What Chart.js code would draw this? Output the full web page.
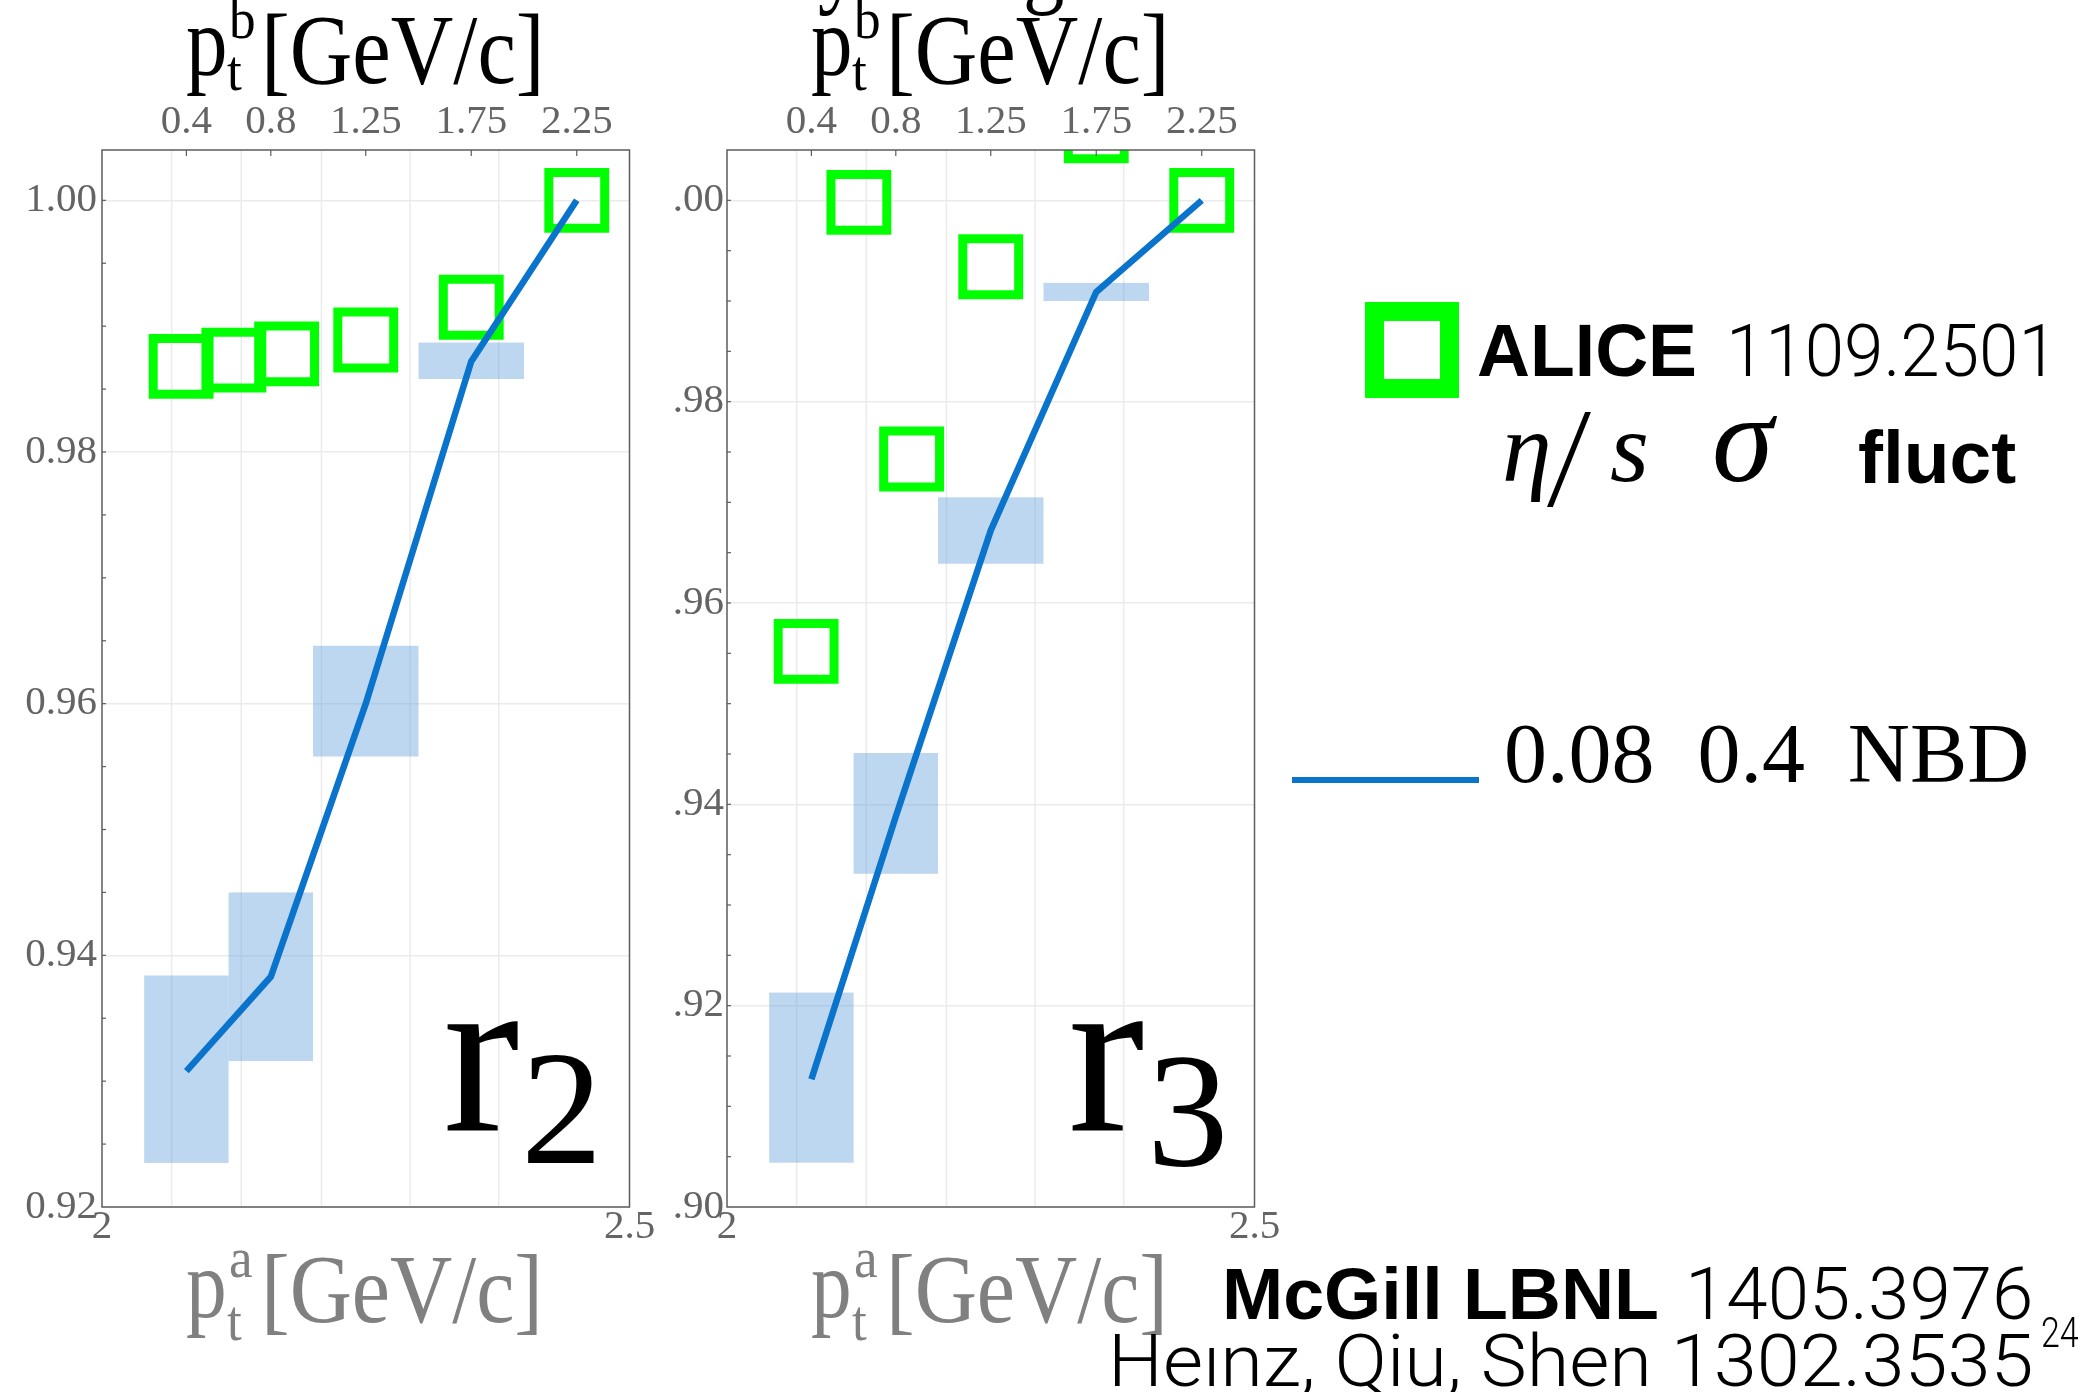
<!DOCTYPE html>
<html>
<head>
<meta charset="utf-8">
<script src="https://cdn.jsdelivr.net/npm/chart.js@4.4.1/dist/chart.umd.min.js"></script>
<style>
  html, body { margin: 0; padding: 0; background: #fff; }
  #page { position: relative; width: 2095px; height: 1392px; overflow: hidden; background: #fff; }
  canvas { position: absolute; }
  .t { position: absolute; white-space: pre; line-height: 1; transform-origin: 0 0; }
  .swatch-sq { position: absolute; box-sizing: border-box; border: 19px solid #00ff00; }
  .swatch-ln { position: absolute; background: #0a73cc; }
</style>
</head>
<body>
<div id="page">
  <canvas id="r2" width="678" height="1160" style="left:0px;top:100px"></canvas>
  <canvas id="r3" width="678" height="1160" style="left:625px;top:100px"></canvas>
  <div class="swatch-sq" style="left:1365px;top:302px;width:94px;height:96px"></div>
  <div class="swatch-ln" style="left:1292px;top:777px;width:187px;height:6px"></div>
</div>
<script>
// ---- data ----------------------------------------------------------------
// model (hydro) bins in p_t^b
const binCenters = [0.4, 0.8, 1.25, 1.75, 2.25];
const binLo      = [0.2, 0.6, 1.0, 1.5, 2.0];
const binHi      = [0.6, 1.0, 1.5, 2.0, 2.5];
const topTickLabels = ['0.4', '0.8', '1.25', '1.75', '2.25'];

// ALICE measurement bins in p_t^b
const aliceX  = [0.375, 0.625, 0.875, 1.25, 1.75, 2.25];
const aliceR2 = [0.9868, 0.9873, 0.9878, 0.9889, 0.9915, 1.000];
const aliceR3 = [0.9552, 0.9998, 0.9743, 0.9934, 1.0069, 1.000];

// model: eta/s = 0.08, sigma = 0.4, NBD fluctuations
const modelR2   = [0.9308, 0.9383, 0.9600, 0.9872, 1.000];
const modelR2Lo = [0.9235, 0.9316, 0.9558, 0.9858, 1.000];
const modelR2Hi = [0.9384, 0.9450, 0.9646, 0.9887, 1.000];
const modelR3   = [0.9127, 0.9388, 0.9672, 0.9909, 1.000];
const modelR3Lo = [0.9044, 0.9331, 0.9639, 0.9900, 1.000];
const modelR3Hi = [0.9213, 0.9451, 0.9705, 0.9918, 1.000];

const yTicksR2 = [0.92, 0.94, 0.96, 0.98, 1.00];
const yTicksR3 = [0.90, 0.92, 0.94, 0.96, 0.98, 1.00];
const bottomTicks = [2, 2.5];
const gridX = [0.33, 0.66, 1.04, 1.46, 1.88];

// ---- styling -------------------------------------------------------------
const SERIF = "'Liberation Serif', 'Times New Roman', serif";
const SANS  = "'Liberation Sans', Arial, sans-serif";
const LIGHT = "Roboto, 'Liberation Sans', sans-serif";
const GREEN = '#00ff00';
const BLUE  = '#0a73cc';
const BAND  = 'rgba(100,160,220,0.42)';
const TICK_COLOR = '#646464';
const GRID_COLOR = '#ebebeb';
const FRAME_COLOR = '#5c5c5c';
const tickFont = { family: SERIF, size: 41, lineHeight: 1 };

// keep the plot frame fixed: no extra room reserved for edge labels
function fixPadding(s) {
  s.paddingLeft = 0; s.paddingRight = 0; s.paddingTop = 0; s.paddingBottom = 0;
}

// grid columns, error bands, frame and inward ticks
const panelDecor = {
  id: 'panelDecor',
  beforeDatasetsDraw(chart, args, opts) {
    const { ctx, chartArea: a, scales: { x2, y } } = chart;
    ctx.save();
    ctx.strokeStyle = GRID_COLOR;
    ctx.lineWidth = 1.5;
    gridX.forEach(v => {
      const px = x2.getPixelForValue(v);
      ctx.beginPath(); ctx.moveTo(px, a.top); ctx.lineTo(px, a.bottom); ctx.stroke();
    });
    ctx.fillStyle = BAND;
    opts.lo.forEach((lo, i) => {
      const hi = opts.hi[i];
      if (hi <= lo) return;
      const xa = x2.getPixelForValue(binLo[i]);
      const xb = x2.getPixelForValue(binHi[i]);
      const ya = y.getPixelForValue(hi);
      const yb = y.getPixelForValue(lo);
      ctx.fillRect(xa, ya, xb - xa, yb - ya);
    });
    ctx.restore();
  },
  afterDatasetsDraw(chart) {
    const { ctx, chartArea: a, scales: { x2, y } } = chart;
    ctx.save();
    ctx.strokeStyle = FRAME_COLOR;
    ctx.lineWidth = 1.5;
    ctx.strokeRect(a.left, a.top, a.right - a.left, a.bottom - a.top);
    ctx.lineWidth = 1.2;
    x2.ticks.forEach(t => {
      const px = x2.getPixelForValue(t.value);
      ctx.beginPath(); ctx.moveTo(px, a.top); ctx.lineTo(px, a.top + 6); ctx.stroke();
    });
    for (let v = y.min; v <= y.max + 1e-9; v += 0.005) {
      const py = y.getPixelForValue(v);
      if (py < a.top + 1 || py > a.bottom - 1) continue;
      ctx.beginPath(); ctx.moveTo(a.left, py); ctx.lineTo(a.left + 4, py); ctx.stroke();
    }
    ctx.restore();
  }
};

function makePanel(id, cfg) {
  return new Chart(document.getElementById(id), {
    type: 'scatter',
    data: {
      datasets: [
        {
          type: 'line',
          label: '0.08 0.4 NBD',
          data: binCenters.map((x, i) => ({ x, y: cfg.model[i] })),
          xAxisID: 'x2',
          borderColor: BLUE,
          borderWidth: 6.5,
          pointRadius: 0,
          tension: 0,
          fill: false,
          order: 0,
          clip: 0
        },
        {
          label: 'ALICE 1109.2501',
          data: aliceX.map((x, i) => ({ x, y: cfg.alice[i] })),
          xAxisID: 'x2',
          pointStyle: 'rect',
          pointRadius: 39.5,
          pointBorderWidth: 9,
          pointBorderColor: GREEN,
          pointBackgroundColor: 'rgba(0,0,0,0)',
          showLine: false,
          order: 1,
          clip: 0
        }
      ]
    },
    options: {
      responsive: false,
      animation: false,
      devicePixelRatio: 1,
      events: [],
      layout: { padding: { left: 0, right: 30, top: 0, bottom: 0 } },
      plugins: {
        legend: { display: false },
        tooltip: { enabled: false },
        panelDecor: { lo: cfg.lo, hi: cfg.hi }
      },
      scales: {
        x: {
          type: 'linear', position: 'bottom', min: 2, max: 2.5,
          afterBuildTicks: s => { s.ticks = bottomTicks.map(v => ({ value: v })); },
          afterFit: s => { s.height = 53; fixPadding(s); },
          ticks: { font: tickFont, color: TICK_COLOR, padding: 0, maxRotation: 0, callback: v => String(v) },
          grid: { display: false, drawTicks: false },
          border: { display: false }
        },
        x2: {
          type: 'linear', position: 'top', min: 0, max: 2.5,
          afterBuildTicks: s => { s.ticks = binCenters.map(v => ({ value: v })); },
          afterFit: s => { s.height = 50; fixPadding(s); },
          ticks: { font: tickFont, color: TICK_COLOR, padding: 7, maxRotation: 0, callback: (v, i) => topTickLabels[i] },
          grid: { display: false, drawTicks: false },
          border: { display: false }
        },
        y: {
          type: 'linear', position: 'left', min: cfg.ymin, max: cfg.ymax,
          afterBuildTicks: s => { s.ticks = cfg.yTicks.map(v => ({ value: v })); },
          afterFit: s => { s.width = 102; fixPadding(s); },
          ticks: { font: tickFont, color: TICK_COLOR, padding: cfg.ypad, callback: cfg.fmt },
          grid: { color: GRID_COLOR, lineWidth: 1.5, drawTicks: false },
          border: { display: false }
        }
      }
    },
    plugins: [panelDecor]
  });
}

makePanel('r2', {
  model: modelR2, lo: modelR2Lo, hi: modelR2Hi, alice: aliceR2,
  ymin: 0.92, ymax: 1.004, yTicks: yTicksR2, ypad: 5,
  fmt: v => v.toFixed(2)
});
makePanel('r3', {
  model: modelR3, lo: modelR3Lo, hi: modelR3Hi, alice: aliceR3,
  ymin: 0.90, ymax: 1.005, yTicks: yTicksR3, ypad: 3,
  fmt: v => v.toFixed(2).replace(/^[01]/, '')
});

// ---- text ----------------------------------------------------------------
const page = document.getElementById('page');
function put(txt, x, base, size, family, o = {}) {
  const el = document.createElement('div');
  el.className = 't';
  el.style.fontFamily = family;
  el.style.fontSize = size + 'px';
  el.style.color = o.color || '#000';
  if (o.weight) el.style.fontWeight = o.weight;
  if (o.italic) el.style.fontStyle = 'italic';
  el.appendChild(document.createTextNode(txt));
  const mark = document.createElement('span');
  mark.style.cssText = 'display:inline-block;width:0;height:0;vertical-align:baseline';
  el.appendChild(mark);
  page.appendChild(el);
  const asc = mark.offsetTop;
  const sy = o.sy || 1;
  el.style.top = (base - asc * sy) + 'px';
  let sx = o.sx || 1;
  if (o.width) sx = o.width / el.offsetWidth;
  const w = el.offsetWidth * sx;
  el.style.left = (o.right !== undefined ? o.right - w : x) + 'px';
  if (sx !== 1 || sy !== 1) el.style.transform = 'scale(' + sx + ',' + sy + ')';
  return el;
}

const GRAY = '#808080';
[0, 625].forEach(dx => {
  // upper axis title  p_t^b [GeV/c]
  put('p', 186 + dx, 75, 100, SERIF, { sx: 0.83 });
  put('b', 229 + dx, 38, 56, SERIF, { sx: 0.95 });
  put('t', 227 + dx, 90, 56, SERIF, { sx: 0.95 });
  put('[GeV/c]', 261 + dx, 83, 100, SERIF, { width: 284 });
  // lower axis title  p_t^a [GeV/c]
  put('p', 186 + dx, 1317, 98, SERIF, { sx: 0.83, color: GRAY });
  put('a', 229 + dx, 1277, 56, SERIF, { sx: 0.95, color: GRAY });
  put('t', 227 + dx, 1340, 56, SERIF, { sx: 0.95, color: GRAY });
  put('[GeV/c]', 261 + dx, 1322, 98, SERIF, { width: 282, color: GRAY });
});
// descenders of the heading line above the right panel
put('y', 818, -5, 100, SERIF, { sx: 0.83 });
put('g', 1023, -5, 100, SERIF, { sx: 0.83 });

// panel labels
put('r', 443, 1130, 230, SERIF);
put('2', 521, 1163, 163, SERIF);
put('r', 1068, 1130, 230, SERIF);
put('3', 1147, 1165, 163, SERIF);

// legend
put('ALICE', 1477, 376, 74, SANS, { weight: 'bold', width: 220 });
put('1109.2501', 1726, 376, 72, LIGHT, { weight: 300, width: 332 });
put('\u03B7', 1502, 481, 100, SERIF, { italic: true });
put('/', 1552, 506, 100, SERIF, { italic: true, sx: 1.1, sy: 1.42 });
put('s', 1610, 481, 100, SERIF, { italic: true });
put('\u03C3', 1712, 481, 124, SERIF, { italic: true });
put('fluct', 1858, 483, 74, SANS, { weight: 'bold', width: 158 });
put('0.08  0.4  NBD', 1504, 782, 84, SERIF, { width: 525 });

// references
put('McGill LBNL', 1222, 1319, 73, SANS, { weight: 'bold', width: 437 });
put('1405.3976', 0, 1319, 73, LIGHT, { weight: 300, right: 2033, width: 348 });
put('He\u0131nz, Qiu, Shen 1302.3535', 0, 1386, 73, LIGHT, { weight: 300, right: 2033, width: 925 });
put('24', 2041, 1347, 42, LIGHT, { weight: 300, width: 38 });
</script>
</body>
</html>
